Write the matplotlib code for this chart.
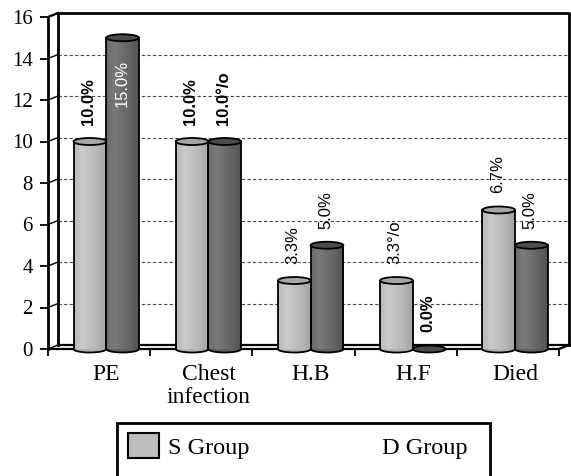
import matplotlib
matplotlib.use("Agg")
import matplotlib.pyplot as plt
import numpy as np
from matplotlib.patches import Rectangle, Ellipse, Patch
from matplotlib.colors import LinearSegmentedColormap

# ---- data ----
categories = ["PE", "Chest\ninfection", "H.B", "H.F", "Died"]
s_values = [10.0, 10.0, 3.3, 3.3, 6.7]
d_values = [15.0, 10.0, 5.0, 0.0, 5.0]
s_labels = ["10.0%", "10.0%", "3.3%", "3.3°/o", "6.7%"]
d_labels = ["15.0%", "10.0°/o", "5.0%", "0.0%", "5.0%"]
series_names = ["S Group", "D Group"]
y_ticks = [0, 2, 4, 6, 8, 10, 12, 14, 16]

# ---- figure / axes geometry (pixels) ----
W, H = 571, 476
fig = plt.figure(figsize=(W / 100, H / 100), dpi=100)
L, R, T, B = 48, 559, 17, 349
ax = fig.add_axes([L / W, 1 - B / H, (R - L) / W, (B - T) / H])
n = len(categories)
ymax = 16
ax.set_xlim(0, n)
ax.set_ylim(0, ymax)

px_x = (R - L) / n          # pixels per x unit
px_y = (B - T) / ymax       # pixels per y unit
dx = 10 / px_x              # depth offset of the back wall
dy = 4 / px_y

serif = "Liberation Serif"
sans = "Liberation Sans"

for s in ["top", "right"]:
    ax.spines[s].set_visible(False)
ax.spines["left"].set_linewidth(2)
ax.spines["bottom"].set_linewidth(1.6)

# back wall, floor and connecting edges
ax.plot([dx, dx, n + dx, n + dx], [dy, ymax + dy, ymax + dy, dy],
        color="black", lw=2, clip_on=False, zorder=1)
ax.plot([dx, n + dx], [dy, dy], color="black", lw=1.6, clip_on=False, zorder=1)
ax.plot([0, dx], [ymax, ymax + dy], color="black", lw=1.6, clip_on=False, zorder=1)
ax.plot([n, n + dx], [0, dy], color="black", lw=1.6, clip_on=False, zorder=1)
for y in y_ticks:
    if 0 < y < ymax:
        ax.plot([dx, n + dx], [y + dy, y + dy], color="#4a4a4a", lw=0.8,
                ls=(0, (3, 2)), clip_on=False, zorder=0.5)
    ax.plot([0, dx], [y, y + dy], color="black", lw=1.0, clip_on=False, zorder=1)

# ---- cylinders ----
s_body = LinearSegmentedColormap.from_list(
    "s_body", ["#b8b8b8", "#cacaca", "#c0c0c0", "#b4b4b4", "#a2a2a2"])
d_body = LinearSegmentedColormap.from_list(
    "d_body", ["#6a6a6a", "#7a7a7a", "#6e6e6e", "#626262", "#525252"])
s_top, d_top = "#a6a6a6", "#4c4c4c"

bar_w = 0.32
shift = 0.07
ell_h = 7 / px_y
grad = np.linspace(0, 1, 128).reshape(1, -1)


def cylinder(xc, val, cmap, top_color):
    x0 = xc - bar_w / 2
    if val > 0:
        rect = Rectangle((x0, 0), bar_w, val, facecolor="none", edgecolor="none")
        ax.add_patch(rect)
        im = ax.imshow(grad, extent=[x0, x0 + bar_w, 0, val], cmap=cmap,
                       aspect="auto", origin="lower", zorder=3,
                       interpolation="bilinear")
        im.set_clip_path(rect)
        ax.add_patch(Ellipse((xc, 0), bar_w, ell_h, facecolor=cmap(0.8),
                             edgecolor="black", lw=1.3, zorder=2.9, clip_on=False))
        ax.plot([x0, x0], [0, val], color="black", lw=1.3, zorder=3.5)
        ax.plot([x0 + bar_w, x0 + bar_w], [0, val], color="black", lw=1.3, zorder=3.5)
    ax.add_patch(Ellipse((xc, val), bar_w, ell_h, facecolor=top_color,
                         edgecolor="black", lw=1.3, zorder=4, clip_on=False))


bold_s = {0, 1}
bold_d = {1, 3}
lab_fs = 12

for i in range(n):
    xs = i + 0.5 + shift - bar_w / 2
    xd = i + 0.5 + shift + bar_w / 2
    cylinder(xs, s_values[i], s_body, s_top)
    cylinder(xd, d_values[i], d_body, d_top)

    ax.annotate(s_labels[i], (xs, s_values[i]), xytext=(-1, 12),
                textcoords="offset points", rotation=90, ha="center", va="bottom",
                fontsize=lab_fs, family=sans,
                fontweight="bold" if i in bold_s else "normal", zorder=5,
                annotation_clip=False)
    if d_values[i] > 12:
        ax.annotate(d_labels[i], (xd, d_values[i]), xytext=(0, -16),
                    textcoords="offset points", rotation=90, ha="center", va="top",
                    fontsize=lab_fs, family=sans, color="white", zorder=5)
    else:
        ax.annotate(d_labels[i], (xd, d_values[i]), xytext=(-1, 12),
                    textcoords="offset points", rotation=90, ha="center",
                    va="bottom", fontsize=lab_fs, family=sans,
                    fontweight="bold" if i in bold_d else "normal", zorder=5,
                    annotation_clip=False)

# ---- axes ticks ----
ax.set_yticks(y_ticks)
ax.set_yticklabels([str(v) for v in y_ticks], family=serif, fontsize=15)
ax.tick_params(axis="y", length=6, width=1.3, pad=5)

ax.set_xticks(range(n + 1))
ax.set_xticklabels([])
ax.tick_params(axis="x", which="major", length=5, width=1.3)
ax.set_xticks([i + 0.5 + shift for i in range(n)], minor=True)
ax.set_xticklabels(categories, minor=True, family=serif, fontsize=17,
                   linespacing=1.08)
ax.tick_params(axis="x", which="minor", length=0, pad=11)

# ---- legend ----
leg_fs = 17.5
fs_px = leg_fs * 100 / 72
handles = [Patch(facecolor="#bdbdbd", edgecolor="black", lw=1.5),
           Patch(facecolor="none", edgecolor="none")]
leg = fig.legend(handles, series_names, loc="upper left",
                 bbox_to_anchor=(128 / W - 0.4 * fs_px / W, 1 - 423 / H,
                                 (468 - 128) / W + 0.8 * fs_px / W, 0),
                 mode="expand", ncol=2, frameon=False,
                 prop={"family": serif, "size": leg_fs},
                 handlelength=31 / fs_px, handleheight=30 / fs_px,
                 handletextpad=0.35, borderpad=0.4, borderaxespad=0)
fig.add_artist(Rectangle((117 / W, -0.05), (490 - 117) / W, 0.05 + 1 - 423 / H,
                         transform=fig.transFigure, fill=False,
                         edgecolor="black", lw=2))

fig.savefig("out.png", dpi=100)
